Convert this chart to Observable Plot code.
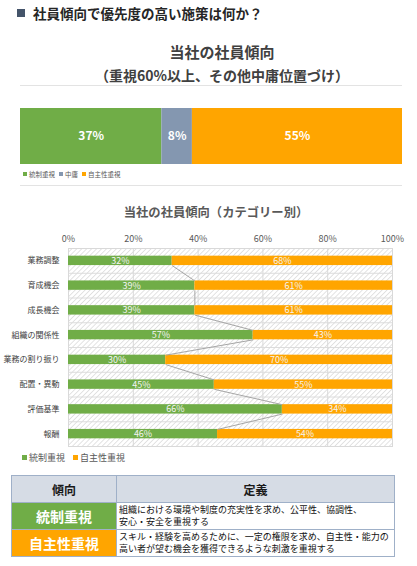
<!DOCTYPE html>
<html><head><meta charset="utf-8">
<script src="https://cdn.jsdelivr.net/npm/d3@7"></script>
<script src="https://cdn.jsdelivr.net/npm/@observablehq/plot@0.6"></script>
<style>
body{margin:0;background:#fff;font-family:"Noto Sans CJK JP","Noto Sans",sans-serif;}
#page{position:relative;width:417px;height:566px;overflow:hidden;background:#fff;}
.abs{position:absolute;}
.leg span.sq{display:inline-block;vertical-align:middle;}
table{border-collapse:collapse;}
td{border:1px solid #9fb0c8;padding:0;}
</style></head><body><div id="page">
<div class="abs" style="left:17px;top:9px;width:8px;height:8px;background:#44546A"></div>
<div class="abs" style="left:33px;top:3px;font-size:13.5px;font-weight:bold;color:#262626;line-height:20px;white-space:nowrap">社員傾向で優先度の高い施策は何か？</div>
<div class="abs" id="t1" style="left:40px;width:364px;top:41px;text-align:center;font-size:15px;font-weight:bold;color:#404040;line-height:22px"></div>
<div class="abs" id="t1b" style="left:40px;width:364px;top:64px;text-align:center;font-size:14px;font-weight:bold;color:#404040;line-height:22px;white-space:nowrap"></div>
<div class="abs" style="left:20px;width:382px;top:85px;height:1px;background:#e3e3e3"></div>
<div class="abs" id="c1" style="left:0;top:100px"></div>
<div class="abs leg" id="leg1" style="left:23px;top:168px;font-size:6.5px;color:#595959;line-height:12px;white-space:nowrap"></div>
<div class="abs" style="left:20px;width:382px;top:185px;height:1px;background:#e3e3e3"></div>
<div class="abs" id="t2" style="left:40px;width:352px;top:202px;text-align:center;font-size:12.3px;font-weight:bold;color:#595959;line-height:20px;white-space:nowrap"></div>
<div class="abs" id="c2" style="left:0;top:225px"></div>
<div class="abs leg" id="leg2" style="left:22px;top:451px;font-size:9px;color:#595959;line-height:14px;white-space:nowrap"></div>
<div class="abs" id="tbl" style="left:11px;top:475px"></div>
</div>
<script>
// ---- data ----
const title1 = "当社の社員傾向";
const subtitle1 = "（重視60%以上、その他中庸位置づけ）";
const cats1 = ["統制重視", "中庸", "自主性重視"];
const values1 = [37, 8, 55];
const colors1 = ["#70AD47", "#8497B0", "#FFA500"];

const title2 = "当社の社員傾向（カテゴリー別）";
const cats2 = ["業務調整", "育成機会", "成長機会", "組織の関係性", "業務の割り振り", "配置・異動", "評価基準", "報酬"];
const control = [32, 39, 39, 57, 30, 45, 66, 46];
const autonomy = [68, 61, 61, 43, 70, 55, 34, 54];
const xTicks = [0, 20, 40, 60, 80, 100];
const series2 = ["統制重視", "自主性重視"];
const colors2 = ["#70AD47", "#FFA500"];

const tableHead = ["傾向", "定義"];
const tableRows = [
  ["統制重視", ["組織における環境や制度の充実性を求め、公平性、協調性、", "安心・安全を重視する"]],
  ["自主性重視", ["スキル・経験を高めるために、一定の権限を求め、自主性・能力の", "高い者が望む機会を獲得できるような刺激を重視する"]]
];
const rowColors = ["#70AD47", "#FFA500"];

// ---- titles ----
document.getElementById("t1").textContent = title1;
document.getElementById("t1b").textContent = subtitle1;
document.getElementById("t2").textContent = title2;

// ---- chart 1 ----
const data1 = cats1.map((c, i) => ({cat: c, value: values1[i]}));
const chart1 = Plot.plot({
  width: 417, height: 70,
  marginLeft: 20, marginRight: 15, marginTop: 8, marginBottom: 6,
  x: {domain: [0, 100], axis: null},
  color: {domain: cats1, range: colors1},
  style: {fontFamily: "'Noto Sans CJK JP', 'Noto Sans', sans-serif"},
  marks: [
    Plot.barX(data1, {x: "value", fill: "cat"}),
    Plot.text(data1, Plot.stackX({x: "value", z: "cat", text: d => d.value + "%", fill: "white", fontSize: 12, fontWeight: "bold"}))
  ]
});
document.getElementById("c1").appendChild(chart1);

function legend(el, names, cols, sq, gap) {
  el.innerHTML = names.map((n, i) =>
    `<span style="margin-right:${gap}px"><span class="sq" style="width:${sq}px;height:${sq}px;background:${cols[i]};margin-right:2px;position:relative;top:-1px"></span>${n}</span>`
  ).join("");
}
legend(document.getElementById("leg1"), cats1, colors1, 4, 4);
legend(document.getElementById("leg2"), series2, colors2, 5, 8);

// ---- chart 2 ----
const idx = d3.range(cats2.length);
const h = 0.19;
const rows2 = idx.map(i => ({i, cat: cats2[i], c: control[i], a: autonomy[i]}));
const chart2 = Plot.plot({
  width: 417, height: 224,
  marginLeft: 68, marginRight: 25, marginTop: 23, marginBottom: 3,
  x: {domain: [0, 100]},
  y: {domain: [-0.5, cats2.length - 0.5], reverse: true},
  style: {fontFamily: "'Noto Sans CJK JP', 'Noto Sans', sans-serif", color: "#595959"},
  marks: [
    Plot.frame({fill: "url(#hatch)", stroke: "#d9d9d9"}),
    Plot.ruleX(xTicks.slice(1, -1), {stroke: "#d9d9d9"}),
    Plot.ruleY(idx.slice(0, -1).map(i => i + 0.5), {stroke: "#dcdcdc"}),
    Plot.rectX(rows2, {x1: 0, x2: "c", y1: d => d.i - h, y2: d => d.i + h, fill: colors2[0]}),
    Plot.rectX(rows2, {x1: "c", x2: d => d.c + d.a, y1: d => d.i - h, y2: d => d.i + h, fill: colors2[1]}),
    Plot.link(idx.slice(0, -1), {x1: i => control[i], y1: i => i + h, x2: i => control[i + 1], y2: i => i + 1 - h, stroke: "#a6a6a6", strokeWidth: 1}),
    Plot.text(rows2, {x: d => d.c / 2, y: "i", text: d => d.c + "%", fill: "#f4f4f4", fontSize: 9}),
    Plot.text(rows2, {x: d => d.c + d.a / 2, y: "i", text: d => d.a + "%", fill: "#f4f4f4", fontSize: 9}),
    Plot.axisX(xTicks, {anchor: "top", tickSize: 0, tickPadding: 7, tickFormat: d => d + "%", fontSize: 9, label: null, fill: "#595959"}),
    Plot.axisY(idx, {anchor: "left", tickSize: 0, tickPadding: 9, tickFormat: i => cats2[i], fontSize: 8, label: null, fill: "#404040"})
  ]
});
const ns = "http://www.w3.org/2000/svg";
const defs = document.createElementNS(ns, "defs");
const pat = document.createElementNS(ns, "pattern");
pat.setAttribute("id", "hatch");
pat.setAttribute("patternUnits", "userSpaceOnUse");
pat.setAttribute("width", "3.5");
pat.setAttribute("height", "3.5");
pat.setAttribute("patternTransform", "rotate(45)");
const bg = document.createElementNS(ns, "rect");
bg.setAttribute("width", "3.5"); bg.setAttribute("height", "3.5"); bg.setAttribute("fill", "#ffffff");
const ln = document.createElementNS(ns, "line");
ln.setAttribute("x1", "0"); ln.setAttribute("y1", "0"); ln.setAttribute("x2", "0"); ln.setAttribute("y2", "3.5");
ln.setAttribute("stroke", "#d4d4d4"); ln.setAttribute("stroke-width", "1.3");
pat.appendChild(bg); pat.appendChild(ln); defs.appendChild(pat);
chart2.insertBefore(defs, chart2.firstChild);
document.getElementById("c2").appendChild(chart2);

// ---- table ----
let html = `<table style="width:384px">`;
html += `<tr style="height:27px;background:#D6DCE5">` +
  `<td style="width:104px;text-align:center;font-size:12px;font-weight:bold;color:#1a1a1a">${tableHead[0]}</td>` +
  `<td style="text-align:center;font-size:12px;font-weight:bold;color:#1a1a1a">${tableHead[1]}</td></tr>`;
tableRows.forEach((r, i) => {
  html += `<tr style="height:27px">` +
    `<td style="background:${rowColors[i]};text-align:center;font-size:14px;font-weight:bold;color:#fff">${r[0]}</td>` +
    `<td style="font-size:9px;line-height:12px;color:#111;padding-left:2px;white-space:nowrap">${r[1].join("<br>")}</td></tr>`;
});
html += `</table>`;
document.getElementById("tbl").innerHTML = html;
</script>
</body></html>
